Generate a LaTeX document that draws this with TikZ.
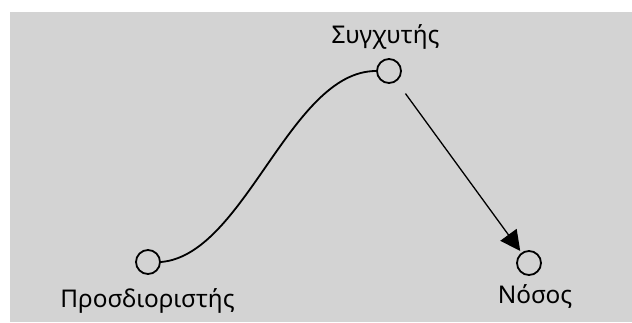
\documentclass[tikz,border=0pt]{standalone}
\usepackage{fontspec}
\setmainfont{Noto Sans}
\usetikzlibrary{arrows.meta}
\definecolor{bggray}{HTML}{D3D3D3}
\tikzset{
  dot/.style={circle,draw=black,line width=1.8pt,minimum size=24pt,inner sep=0pt},
  lbl/.style={font=\fontsize{24.4}{26}\selectfont,inner sep=0pt,anchor=base},
  link/.style={line width=1.8pt},
}
\begin{document}
\begin{tikzpicture}[x=1pt,y=-1pt]
\useasboundingbox (0,0) rectangle (632,322);
\fill[white] (0,0) rectangle (632,322);
\fill[bggray] (10,12) rectangle (632,322);
\node[dot] (pro) at (148,262) {};
\node[dot] (syg) at (389,71) {};
\node[dot] (nos) at (529,263) {};
\node[lbl] (lpro) at (147.5,307) {Προσδιοριστής};
\node[lbl] (lsyg) at (385.5,43) {Συγχυτής};
\node[lbl] (lnos) at (535,303) {Νόσος};
\draw[link] (pro.east) .. controls (245,255) and (290,71) .. (syg.west);
\draw[line width=1.3pt,-{Triangle[length=20pt,width=20pt]},shorten <=15pt,shorten >=2pt] (syg) -- (nos);
\end{tikzpicture}
\end{document}
